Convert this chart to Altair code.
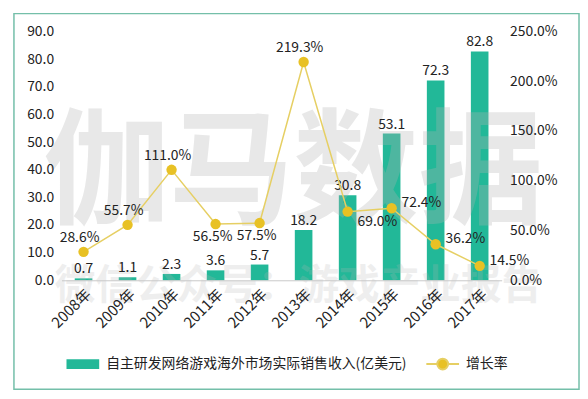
import altair as alt
import pandas as pd

# ---- data ----
years = ["2008年", "2009年", "2010年", "2011年", "2012年",
         "2013年", "2014年", "2015年", "2016年", "2017年"]
revenue = [0.7, 1.1, 2.3, 3.6, 5.7, 18.2, 30.8, 53.1, 72.3, 82.8]
growth = [28.6, 55.7, 111.0, 56.5, 57.5, 219.3, 69.0, 72.4, 36.2, 14.5]

bar_name = "自主研发网络游戏海外市场实际销售收入(亿美元)"
line_name = "增长率"
wm_big = "伽马数据"
wm_small = "微信公众号：游戏产业报告"

FONT = "Noto Sans CJK SC"
TEAL = "#22b898"
YEL_PT = "#e8c124"
YEL_LN = "#e6cf63"
FRAME = "#74bfa9"

df = pd.DataFrame({
    "year": years,
    "revenue": revenue,
    "growth": growth,
    "glabel": [f"{g:.1f}%" for g in growth],
    "rlabel": [f"{r:.1f}" for r in revenue],
    "bar_series": bar_name,
    "line_series": line_name,
})

W, H = 444, 251

x_enc = alt.X("year:N", sort=years, title=None,
              scale=alt.Scale(paddingInner=0.6, paddingOuter=0.3),
              axis=alt.Axis(labelAngle=-45, labelAlign="right", labelBaseline="top",
                            labelFontSize=15, labelFont=FONT, labelColor="#222",
                            ticks=False, domainColor="#c8c8c8", labelPadding=6, zindex=1))

y_left = alt.Y("revenue:Q", title=None,
               scale=alt.Scale(domain=[0, 90], nice=False),
               axis=alt.Axis(orient="left", values=list(range(0, 91, 10)), format=".1f",
                             grid=False, domain=False, ticks=False,
                             labelFontSize=14, labelFont=FONT, labelColor="#222",
                             labelPadding=8, zindex=1))

y_right = alt.Y("growth:Q", title=None,
                scale=alt.Scale(domain=[0, 250], nice=False),
                axis=alt.Axis(orient="right", values=list(range(0, 251, 50)),
                              labelExpr="format(datum.value, '.1f') + '%'",
                              grid=False, domain=False, ticks=False,
                              labelFontSize=14, labelFont=FONT, labelColor="#222",
                              labelPadding=8, zindex=1))

base = alt.Chart(df)
one = base.transform_filter("datum.year == '2008年'")

# frame around the whole chart (decorative)
frame = one.mark_rect(
    fillOpacity=0, stroke=FRAME, strokeWidth=1.5
).encode(x=alt.value(-48), x2=alt.value(522), y=alt.value(-18), y2=alt.value(361))

# watermark (decorative)
wm1 = one.mark_text(
    text=wm_big, font=FONT, fontSize=126, fontWeight="bold", color="#b4b4b4", opacity=0.3
).encode(x=alt.value(234), y=alt.value(146))
wm2 = one.mark_text(
    text=wm_small, font=FONT, fontSize=41, fontWeight="bold", color="#b4b4b4", opacity=0.22
).encode(x=alt.value(239), y=alt.value(258))

bars = base.mark_bar(color=TEAL).encode(
    x=x_enc,
    y=y_left,
    color=alt.Color("bar_series:N",
                    scale=alt.Scale(domain=[bar_name], range=[TEAL]),
                    legend=alt.Legend(title=None, orient="none", legendX=4, legendY=318,
                                      symbolType="M-1,-0.3H1V0.3H-1Z", symbolSize=1089,
                                      labelFontSize=14, labelFont=FONT, labelColor="#222",
                                      labelLimit=500, labelOffset=6)),
)
bar_text = base.mark_text(baseline="bottom", dy=-2, fontSize=14, font=FONT, color="#222").encode(
    x=x_enc, y=y_left, text="rlabel:N")

left = alt.layer(bars, wm1, wm2, bar_text)

line = base.mark_line(color=YEL_LN, strokeWidth=1.5).encode(
    x=x_enc, y=y_right,
    color=alt.Color("line_series:N",
                    scale=alt.Scale(domain=[line_name], range=[YEL_LN]),
                    legend=alt.Legend(title=None, orient="none", legendX=367, legendY=318,
                                      symbolType="M-1,0H-0.33A0.33,0.33 0 1,1 0.33,0A0.33,0.33 0 1,1 -0.33,0M0.33,0H1",
                                      symbolSize=1089, symbolFillColor=YEL_PT,
                                      symbolStrokeColor=YEL_LN, symbolStrokeWidth=2,
                                      labelFontSize=14, labelFont=FONT, labelColor="#222",
                                      labelOffset=6)),
)
points = base.mark_circle(size=110, color=YEL_PT, opacity=1).encode(x=x_enc, y=y_right)

above = ["2008年", "2009年", "2010年", "2013年"]
below = ["2011年", "2012年"]
right_below = ["2014年"]
right_above = ["2015年", "2016年", "2017年"]

def lbl(sel, **kw):
    return base.transform_filter(alt.FieldOneOfPredicate(field="year", oneOf=sel)).mark_text(
        fontSize=14, font=FONT, color="#222", **kw
    ).encode(x=x_enc, y=y_right, text="glabel:N")

lab_above = lbl(above, baseline="bottom", dy=-7, dx=-4)
lab_below = lbl(below, baseline="top", dy=6, dx=-3)
lab_rb = lbl(right_below, align="left", baseline="middle", dx=10, dy=11)
lab_ra = lbl(right_above, align="left", baseline="middle", dx=10, dy=-5)

right = alt.layer(line, points, lab_above, lab_below, lab_rb, lab_ra)

chart = alt.layer(left, right, frame).resolve_scale(
    y="independent", color="independent"
).properties(
    width=W, height=H,
    padding={"left": 5, "top": 3, "right": 0, "bottom": 0},
    background="white",
).configure_view(stroke=None)

chart.save("out.html", embed_options={"renderer": "svg", "actions": False})
